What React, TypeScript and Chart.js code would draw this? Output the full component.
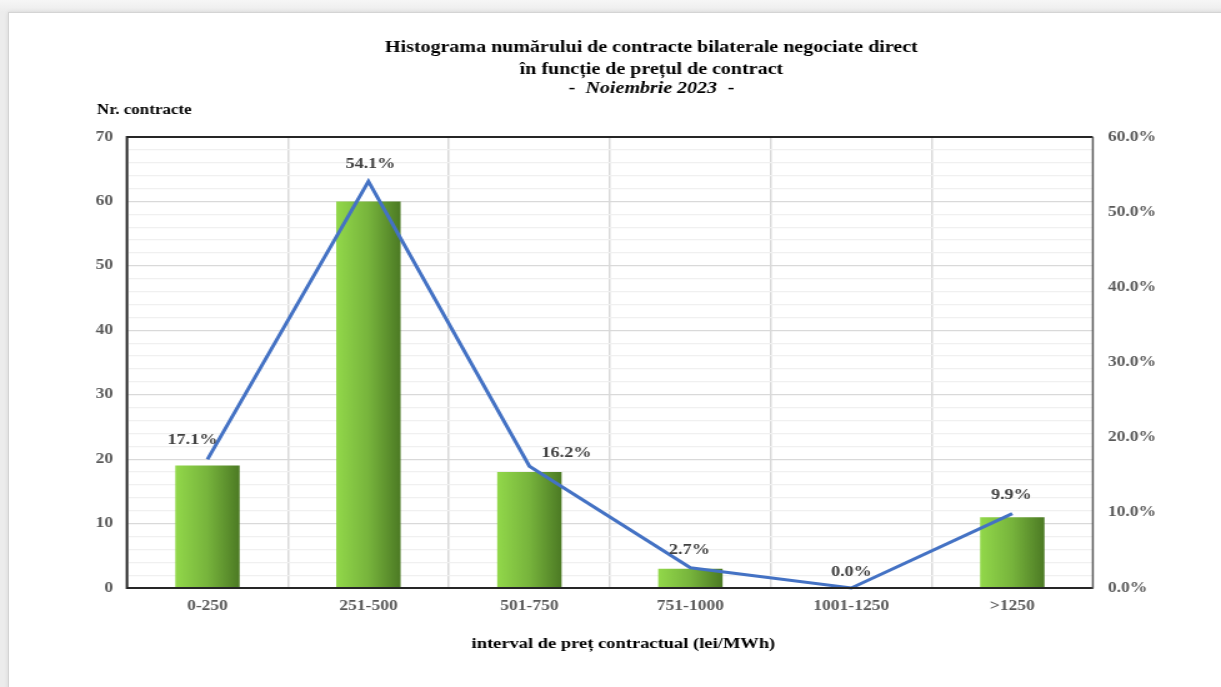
import React, { useEffect, useRef } from 'react';
import { Chart, registerables } from 'chart.js';

Chart.register(...registerables);

// ---- data ----
const categories = ['0-250', '251-500', '501-750', '751-1000', '1001-1250', '>1250'];
const contractCounts = [19, 60, 18, 3, 0, 11];
const contractShares = [17.1, 54.1, 16.2, 2.7, 0.0, 9.9];
const titleLine1 = 'Histograma numărului de contracte bilaterale negociate direct';
const titleLine2 = 'în funcție de prețul de contract';
const titleMonth = 'Noiembrie 2023';
const leftAxisTitle = 'Nr. contracte';
const xAxisTitle = 'interval de preț contractual (lei/MWh)';

// ---- layout (the reference is horizontally stretched) ----
const SX = 1.25;
const W = Math.round(1221 / SX);
const H = 687;
const FONT = '"Liberation Serif", "Times New Roman", serif';
const px = (refX: number) => refX / SX;

const labelOffsets: [number, number][] = [
  [-15, -19],
  [2, -17],
  [37, -13],
  [-1, -17],
  [0, -16],
  [-1, -18],
];

const overlay = {
  id: 'overlay',
  afterDatasetsDraw(chart: any) {
    const { ctx, chartArea: a } = chart;
    ctx.save();
    // plot border
    ctx.lineWidth = 2;
    ctx.strokeStyle = '#262626';
    ctx.beginPath();
    ctx.moveTo(a.right, a.top);
    ctx.lineTo(a.left, a.top);
    ctx.lineTo(a.left, a.bottom);
    ctx.lineTo(a.right, a.bottom);
    ctx.stroke();
    ctx.lineWidth = 1.4;
    ctx.strokeStyle = '#595959';
    ctx.beginPath();
    ctx.moveTo(a.right, a.top);
    ctx.lineTo(a.right, a.bottom + 1);
    ctx.stroke();

    // data labels
    const meta = chart.getDatasetMeta(1);
    ctx.font = `bold 14.5px ${FONT}`;
    ctx.fillStyle = '#404040';
    ctx.textAlign = 'center';
    ctx.textBaseline = 'middle';
    meta.data.forEach((pt: any, i: number) => {
      const [dx, dy] = labelOffsets[i];
      ctx.fillText(contractShares[i].toFixed(1) + '%', pt.x + px(dx), pt.y + dy);
    });
    ctx.restore();
  },
  afterDraw(chart: any) {
    const { ctx } = chart;
    ctx.save();
    ctx.fillStyle = '#000';
    ctx.textBaseline = 'middle';
    ctx.textAlign = 'center';
    const cx = px(651.5);
    ctx.font = `bold 16px ${FONT}`;
    ctx.fillText(titleLine1, cx, 48);
    ctx.fillText(titleLine2, cx, 69.5);
    ctx.fillText('-', cx - px(79.5), 89);
    ctx.fillText('-', cx + px(79.5), 89);
    ctx.font = `italic bold 16px ${FONT}`;
    ctx.fillText(titleMonth, cx, 89);

    ctx.textAlign = 'left';
    ctx.font = `bold 13.6px ${FONT}`;
    ctx.fillText(leftAxisTitle, px(97), 110.5);

    ctx.textAlign = 'center';
    ctx.font = `bold 14.8px ${FONT}`;
    ctx.fillText(xAxisTitle, px(623.5), 644.5);
    ctx.restore();
  },
};

export default function App() {
  const ref = useRef<HTMLCanvasElement | null>(null);

  useEffect(() => {
    const canvas = ref.current;
    if (!canvas) return;
    const tickFont = { family: FONT, size: 14, weight: 'bold' as const };

    const barFill = (c: any) => {
      const chart = c.chart;
      const xs = chart.scales && chart.scales.x;
      if (!xs || c.dataIndex == null) return '#76b041';
      const cx = xs.getPixelForValue(c.dataIndex);
      const w = (xs.width / categories.length) * 0.4;
      if (!Number.isFinite(cx) || !Number.isFinite(w) || w <= 0) return '#76b041';
      const g = chart.ctx.createLinearGradient(cx - w / 2, 0, cx + w / 2, 0);
      g.addColorStop(0, '#92d84a');
      g.addColorStop(0.5, '#77b43c');
      g.addColorStop(1, '#4c7a24');
      return g;
    };

    const chart = new Chart(canvas, {
      type: 'bar',
      data: {
        labels: categories,
        datasets: [
          {
            type: 'bar',
            data: contractCounts,
            yAxisID: 'y',
            barPercentage: 0.4,
            categoryPercentage: 1,
            backgroundColor: barFill,
            borderWidth: 0,
            order: 2,
          } as any,
          {
            type: 'line',
            data: contractShares,
            yAxisID: 'y1',
            borderColor: '#4472c4',
            borderWidth: 3,
            pointRadius: 0,
            tension: 0,
            fill: false,
            clip: false,
            order: 1,
          } as any,
        ],
      },
      options: {
        responsive: false,
        animation: false,
        devicePixelRatio: 1,
        layout: { padding: { top: 137, left: 0, right: 0, bottom: 0 } },
        plugins: {
          legend: { display: false },
          title: { display: false },
          tooltip: { enabled: false },
        },
        scales: {
          x: {
            grid: { offset: true, color: '#d9d9d9', lineWidth: 1.5, drawTicks: false },
            border: { display: false },
            ticks: { font: tickFont, color: '#595959', padding: 10, maxRotation: 0 },
            afterFit: (s: any) => {
              s.height = 99;
            },
          },
          y: {
            min: 0,
            max: 70,
            ticks: {
              stepSize: 2,
              autoSkip: false,
              font: tickFont,
              color: '#595959',
              padding: 11,
              callback: (v: any) => (Number(v) % 10 === 0 ? String(v) : ''),
            },
            grid: {
              drawTicks: false,
              lineWidth: 1.2,
              color: (c: any) => (c.tick && c.tick.value % 10 === 0 ? '#d9d9d9' : '#f0f0f0'),
            },
            border: { display: false },
            afterFit: (s: any) => {
              s.width = px(127);
            },
          },
          y1: {
            position: 'right',
            min: 0,
            max: 60,
            ticks: {
              stepSize: 10,
              font: tickFont,
              color: '#595959',
              padding: 12,
              callback: (v: any) => Number(v).toFixed(1) + '%',
            },
            grid: { display: false, drawTicks: false },
            border: { display: false },
            afterFit: (s: any) => {
              s.width = W - px(1093);
            },
          },
        },
      } as any,
      plugins: [overlay],
    });

    return () => chart.destroy();
  }, []);

  return (
    <div
      style={{
        position: 'fixed',
        left: 0,
        top: 0,
        width: 1221,
        height: 687,
        overflow: 'hidden',
        background: 'linear-gradient(#f6f6f6, #ececec 12px, #ececec)',
      }}
    >
      <div
        style={{
          position: 'absolute',
          left: 8,
          top: 12,
          width: 1260,
          height: 720,
          background: '#ffffff',
          borderLeft: '1px solid #d4d4d4',
          borderTop: '1px solid #d4d4d4',
          boxShadow: '0 0 4px rgba(0,0,0,0.10)',
        }}
      />
      <canvas
        ref={ref}
        width={W}
        height={H}
        style={{ position: 'absolute', left: 0, top: 0, width: '1221px', height: '687px' }}
      />
    </div>
  );
}
